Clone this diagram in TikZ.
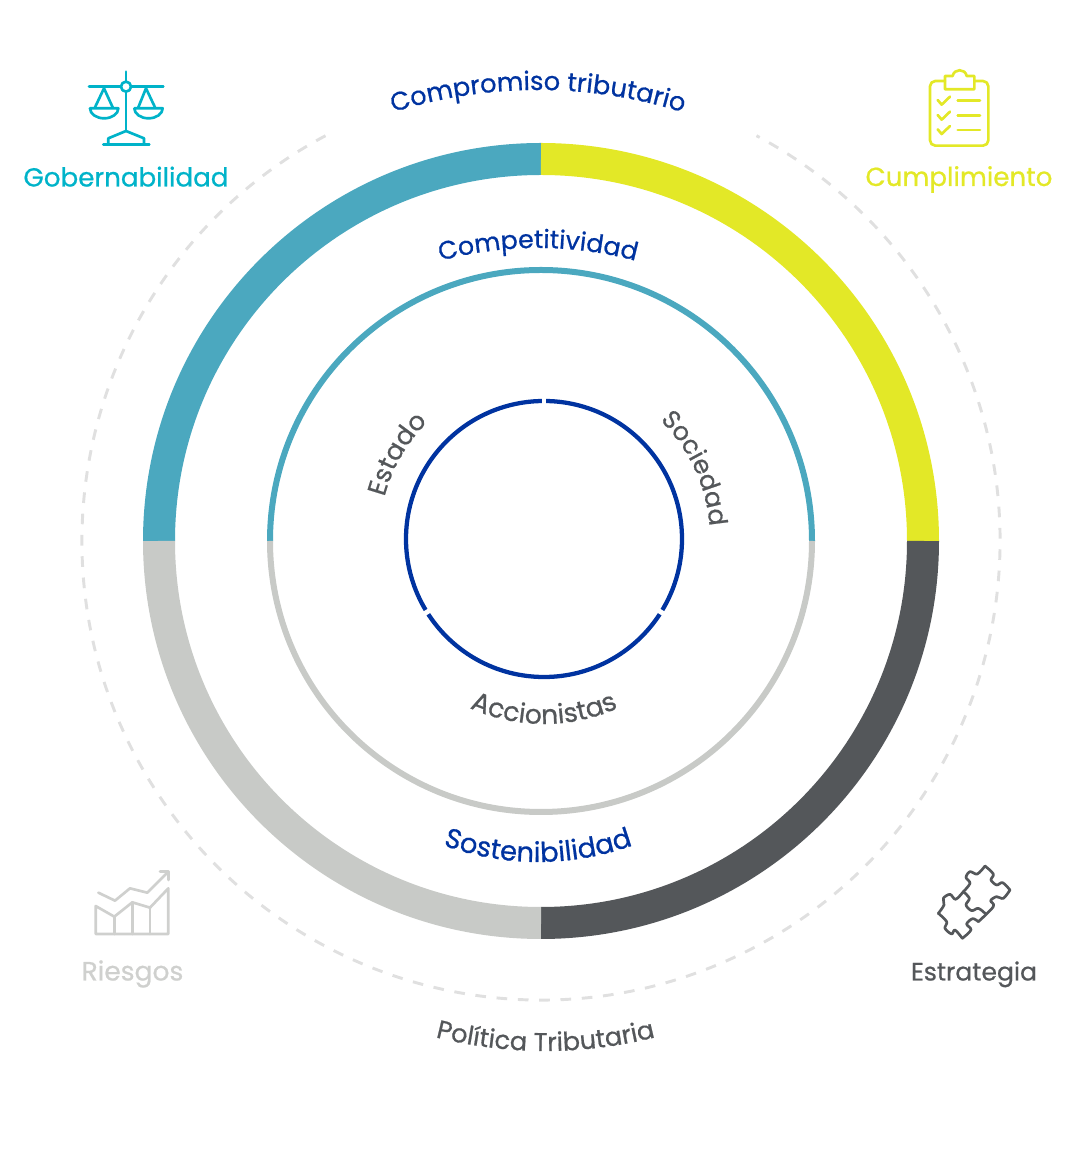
\documentclass[tikz,border=0pt]{standalone}
\usepackage{fontspec}
\usepackage{xcolor}
\usepackage{tikz}
\usetikzlibrary{decorations.text}
\setmainfont{Poppins}[FakeBold=0.7]
\definecolor{brandblue}{HTML}{0033A0}
\definecolor{ringteal}{HTML}{4BA8BF}
\definecolor{ringyellow}{HTML}{E3E827}
\definecolor{ringdark}{HTML}{54575A}
\definecolor{ringgray}{HTML}{C8CAC7}
\definecolor{govcyan}{HTML}{00B3C9}
\definecolor{riskgray}{HTML}{CFD0CE}
\definecolor{dashgray}{HTML}{E0E0E0}
\tikzset{
  arctext/.style 2 args={decorate, decoration={text along path, text={|#1|#2}, text align=center}},
  iconlabel/.style={anchor=base, font=\fontsize{#1}{20}\selectfont},
  iconlabel/.default=19.6,
  iconline/.style={line width=2pt, line join=round, line cap=round}
}
\newcommand{\bluearc}[1]{\fontsize{#1}{20}\selectfont\color{brandblue}}
\newcommand{\grayarc}[1]{\fontsize{#1}{20}\selectfont\color{ringdark}}

\begin{document}
\begin{tikzpicture}[x=0.75pt, y=0.75pt]
    \useasboundingbox (0,0) rectangle (1080,1154);
    \coordinate (mid) at (541,613);
    \coordinate (inner) at (544,615);

    % anillo exterior
    \foreach \ringcol/\from in {ringteal/90, ringyellow/0, ringdark/270, ringgray/180}
        \draw[\ringcol, line width=24pt] (mid) ++(\from:382) arc (\from:\from+90:382);

    % anillo medio
    \draw[ringteal, line width=4.5pt] (mid) ++(180:271) arc (180:0:271);
    \draw[ringgray, line width=4.5pt] (mid) ++(180:271) arc (180:360:271);

    % circulo interior
    \draw[brandblue, line width=3.2pt] (inner) circle (138);
    \foreach \gapangle in {90, 212, 328}
        \draw[white, line width=3.6pt] (inner) ++(\gapangle:130) -- ++(\gapangle:16);

    % linea punteada
    \draw[dashgray, line width=2.2pt, dash pattern=on 8pt off 8pt] (mid) ++(118:459) arc (118:422:459);

    % textos curvos
    \path[arctext={\bluearc{19.3}}{Compromiso tributario}] (538,584) ++(115:480) arc (115:65:480);
    \path[arctext={\bluearc{19}}{Competitividad}] (538,529) ++(115:377) arc (115:65:377);
    \path[arctext={\bluearc{20.6}}{Sostenibilidad}] (538,570) ++(235:278) arc (235:305:278);
    \path[arctext={\grayarc{20}}{Accionistas}] (544,609) ++(225:179) arc (225:315:179);
    \path[arctext={\grayarc{19.2}}{Política Tributaria}] (545.5,550) ++(250:447) arc (250:290:447);
    \path[arctext={\grayarc{19.4}}{Estado}] (inner) ++(190:165) arc (190:110:165);
    \path[arctext={\grayarc{19}}{Sociedad}] (inner) ++(65:166) arc (65:-15:166);

    % etiquetas
    \node[iconlabel, text=govcyan] (gov) at (126,967.5) {Gobernabilidad};
    \node[iconlabel, text=ringyellow] (cumpl) at (959,968) {Cumplimiento};
    \node[iconlabel=19.9, text=riskgray] (riesgos) at (132.5,173.5) {Riesgos};
    \node[iconlabel=18.8, text=ringdark] (estrat) at (974,173.5) {Estrategia};

    % balanza
    \begin{scope}[shift={(0,1104)}, xscale=1/3, yscale=-1/3, govcyan, iconline]
        \draw (378,65) -- (378,92) (378,128) -- (378,243);
        \draw (378,110) circle (15);
        \draw (267,110) -- (362,110) (394,110) -- (490,110);
        \draw (285,172) -- (312,115) -- (338,172);
        \draw (415,172) -- (438,115) -- (465,172);
        \draw (270,175) -- (355,175) arc (0:180:42.5 and 30) -- cycle;
        \draw (403,175) -- (488,175) arc (0:180:42.5 and 30) -- cycle;
        \draw (325,283) -- (325,265) -- (378,243) -- (432,265) -- (432,283);
        \draw (310,283) -- (448,283);
    \end{scope}

    % lista
    \begin{scope}[shift={(850,1104)}, xscale=1/3, yscale=-1/3, ringyellow, iconline]
        \draw[rounded corners=4pt] (285,93) -- (240,93) -- (240,287) -- (415,287) -- (415,93) -- (373,93);
        \draw (285,118) -- (285,78) -- (308,78) .. controls (312,55) and (346,55) .. (350,78) -- (373,78) -- (373,118) -- cycle;
        \foreach \rowy in {152,197,240} {
            \draw (263,\rowy-2) -- (275,\rowy+12) -- (300,\rowy-12);
            \draw (323,\rowy) -- (390,\rowy);
        }
    \end{scope}

    % grafica
    \begin{scope}[shift={(60,304)}, xscale=1/3, yscale=-1/3, riskgray, iconline]
        \draw (107,252) -- (107,168) -- (163,200) -- (217,157) -- (270,173) -- (325,115) -- (325,252) -- cycle;
        \draw (163,200) -- (163,252) (217,157) -- (217,252) (270,173) -- (270,252);
        \draw (115,128) -- (165,152) -- (210,115) -- (262,128) -- (325,65);
        \draw (300,65) -- (325,65) -- (325,90);
    \end{scope}

    % rompecabezas
    \begin{scope}[shift={(890,304)}, xscale=1/3, yscale=-1/3, ringdark, iconline]
        \draw plot[smooth, tension=0.55] coordinates {(220,125) (240,100) (228,82) (240,65) (262,72) (285,48)};
        \draw plot[smooth, tension=0.55] coordinates {(285,48) (310,72) (303,90) (320,105) (338,98) (360,120)};
        \draw plot[smooth, tension=0.55] coordinates {(360,120) (340,145) (320,140) (302,152) (310,170) (265,215)};
        \draw plot[smooth, tension=0.55] coordinates {(220,125) (238,145) (228,165) (245,182) (265,175) (285,190)};
        \draw plot[smooth, tension=0.55] coordinates {(220,125) (197,148) (180,133) (160,145) (162,165) (145,190)};
        \draw plot[smooth, tension=0.55] coordinates {(145,190) (170,215) (165,235) (185,252) (195,240) (217,265)};
        \draw plot[smooth, tension=0.55] coordinates {(217,265) (243,240) (230,222) (248,206) (265,215)};
    \end{scope}
\end{tikzpicture}
\end{document}
